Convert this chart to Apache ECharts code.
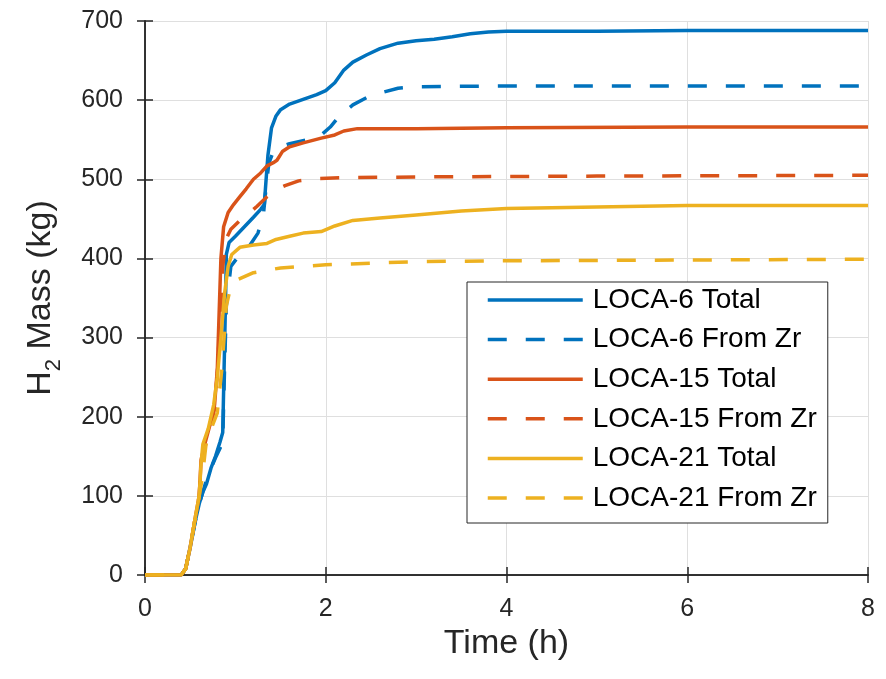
<!DOCTYPE html>
<html>
<head>
<meta charset="utf-8">
<script src="https://cdn.jsdelivr.net/npm/echarts@6/dist/echarts.min.js"></script>
<style>
  html, body { margin: 0; padding: 0; background: #fff; }
  #chart { width: 886px; height: 679px; }
</style>
</head>
<body>
<div id="chart"></div>
<script>
// H2 mass vs time
var seriesNames = ['LOCA-6 Total', 'LOCA-6 From Zr', 'LOCA-15 Total', 'LOCA-15 From Zr', 'LOCA-21 Total', 'LOCA-21 From Zr'];
var xTicks = [0, 2, 4, 6, 8];
var yTicks = [0, 100, 200, 300, 400, 500, 600, 700];

var t6Total = [0, 0.4, 0.45, 0.5, 0.56, 0.6, 0.64, 0.68, 0.73, 0.78, 0.83, 0.86, 0.875, 0.89, 0.9, 0.93, 1.0, 1.1, 1.2, 1.28, 1.32, 1.34, 1.36, 1.4, 1.45, 1.5, 1.6, 1.75, 1.9, 2.0, 2.1, 2.2, 2.3, 2.45, 2.6, 2.8, 3.0, 3.2, 3.4, 3.6, 3.8, 4.0, 5, 6, 8];
var m6Total = [0, 0, 8, 35, 70, 90, 105, 115, 135, 150, 168, 180, 260, 340, 405, 420, 428, 440, 452, 462, 468, 500, 530, 565, 580, 588, 595, 601, 607, 612, 622, 638, 648, 657, 665, 672, 675, 677, 680, 684, 686, 687, 687, 688, 688];

var t6Zr = [0, 0.4, 0.45, 0.5, 0.56, 0.6, 0.64, 0.68, 0.73, 0.78, 0.83, 0.86, 0.88, 0.9, 0.95, 1.05, 1.15, 1.25, 1.31, 1.34, 1.37, 1.42, 1.5, 1.6, 1.8, 1.95, 2.05, 2.15, 2.3, 2.45, 2.6, 2.8, 3.0, 4, 8];
var m6Zr = [0, 0, 8, 35, 70, 90, 105, 120, 135, 148, 160, 170, 260, 340, 390, 405, 415, 432, 455, 490, 520, 535, 541, 545, 550, 556, 566, 580, 594, 603, 609, 615, 617, 618, 618];

var t15Total = [0, 0.4, 0.45, 0.5, 0.56, 0.6, 0.62, 0.66, 0.72, 0.77, 0.8, 0.82, 0.84, 0.87, 0.92, 0.98, 1.05, 1.12, 1.2, 1.28, 1.35, 1.42, 1.46, 1.52, 1.6, 1.75, 1.95, 2.1, 2.2, 2.35, 3, 4, 6, 8];
var m15Total = [0, 0, 8, 35, 75, 100, 145, 165, 190, 215, 260, 330, 400, 440, 458, 468, 478, 488, 500, 508, 517, 521, 524, 535, 541, 546, 552, 556, 561, 564, 564, 565, 566, 566];

var t15Zr = [0, 0.4, 0.45, 0.5, 0.56, 0.6, 0.62, 0.66, 0.72, 0.77, 0.8, 0.83, 0.86, 0.9, 0.95, 1.05, 1.15, 1.24, 1.35, 1.45, 1.55, 1.7, 1.9, 2.2, 3, 5, 8];
var m15Zr = [0, 0, 8, 35, 75, 100, 140, 160, 185, 210, 255, 320, 390, 425, 437, 448, 457, 466, 478, 487, 492, 498, 501, 502, 503, 504, 505];

var t21Total = [0, 0.4, 0.45, 0.5, 0.56, 0.6, 0.62, 0.64, 0.7, 0.76, 0.8, 0.84, 0.88, 0.92, 0.96, 1.05, 1.2, 1.35, 1.45, 1.6, 1.75, 1.95, 2.1, 2.3, 2.6, 3.0, 3.5, 4.0, 5, 6, 8];
var m21Total = [0, 0, 8, 35, 75, 100, 140, 165, 185, 215, 250, 300, 355, 390, 405, 414, 417, 419, 424, 428, 432, 434, 441, 448, 451, 455, 460, 463, 465, 467, 467];

var t21Zr = [0, 0.4, 0.45, 0.5, 0.56, 0.6, 0.63, 0.68, 0.75, 0.8, 0.85, 0.9, 0.95, 1.0, 1.2, 1.5, 2, 3, 4, 8];
var m21Zr = [0, 0, 8, 35, 75, 100, 120, 170, 190, 205, 260, 340, 365, 372, 382, 388, 392, 396, 397, 399];

var colors = ['#0072BD', '#0072BD', '#D95319', '#D95319', '#EDB120', '#EDB120'];
var dashed = [false, true, false, true, false, true];
var times = [t6Total, t6Zr, t15Total, t15Zr, t21Total, t21Zr];
var masses = [m6Total, m6Zr, m15Total, m15Zr, m21Total, m21Zr];

function pairs(t, m) {
  return t.map(function (x, i) { return [x, m[i]]; });
}

var axisColor = '#262626';
var font = 'Liberation Sans, Arial, Helvetica, sans-serif';

var chart = echarts.init(document.getElementById('chart'));

chart.setOption({
  animation: false,
  backgroundColor: '#fff',
  grid: { left: 145, right: 18, top: 21, bottom: 104, containLabel: false },
  legend: {
    data: seriesNames,
    orient: 'vertical',
    left: 467,
    top: 282,
    itemWidth: 95,
    itemHeight: 14,
    itemGap: 9.6,
    padding: [3, 11, 10, 19],
    borderColor: axisColor,
    borderWidth: 1,
    backgroundColor: '#fff',
    itemStyle: { opacity: 0 },
    lineStyle: { width: 3.5 },
    textStyle: { fontSize: 28, fontFamily: font, color: '#000', lineHeight: 30, padding: [0, 0, 0, 5] }
  },
  xAxis: [{
    type: 'value', min: 0, max: 8, interval: 2,
    name: 'Time (h)', nameLocation: 'middle', nameGap: 52,
    nameTextStyle: { fontSize: 34, fontFamily: font, color: axisColor },
    axisLine: { lineStyle: { color: axisColor, width: 1.5 } },
    axisTick: { inside: true, length: 8, lineStyle: { color: axisColor, width: 1.5 } },
    axisLabel: { fontSize: 25, fontFamily: font, color: axisColor, margin: 22,
      formatter: function (v) { return xTicks.indexOf(v) >= 0 ? String(v) : ''; } },
    splitLine: { show: true, lineStyle: { color: '#dfdfdf', width: 1 } }
  }, {
    type: 'value', min: 0, max: 8, interval: 2, position: 'top',
    axisLine: { show: true, lineStyle: { color: axisColor, width: 1.5 } },
    axisTick: { show: true, inside: true, length: 8, lineStyle: { color: axisColor, width: 1.5 } },
    axisLabel: { show: false }, splitLine: { show: false }
  }],
  yAxis: [{
    type: 'value', min: 0, max: 700, interval: 100,
    name: '{a|H}{b|2}{a| Mass (kg)}', nameLocation: 'middle', nameGap: 80,
    nameTextStyle: {
      color: axisColor, fontFamily: font,
      rich: {
        a: { fontSize: 34, fontFamily: font, color: axisColor, lineHeight: 48, verticalAlign: 'middle' },
        b: { fontSize: 22, fontFamily: font, color: axisColor, lineHeight: 22, verticalAlign: 'bottom' }
      }
    },
    axisLine: { show: true, lineStyle: { color: axisColor, width: 1.5 } },
    axisTick: { show: true, inside: true, length: 8, lineStyle: { color: axisColor, width: 1.5 } },
    axisLabel: { fontSize: 25, fontFamily: font, color: axisColor, margin: 22,
      formatter: function (v) { return yTicks.indexOf(v) >= 0 ? String(v) : ''; } },
    splitLine: { show: true, lineStyle: { color: '#dfdfdf', width: 1 } }
  }, {
    type: 'value', min: 0, max: 700, interval: 100, position: 'right',
    axisLine: { show: true, lineStyle: { color: axisColor, width: 1.5 } },
    axisTick: { show: true, inside: true, length: 8, lineStyle: { color: axisColor, width: 1.5 } },
    axisLabel: { show: false }, splitLine: { show: false }
  }],
  series: seriesNames.map(function (name, i) {
    return {
      name: name,
      type: 'line',
      data: pairs(times[i], masses[i]),
      showSymbol: false,
      symbol: 'none',
      smooth: false,
      color: colors[i],
      lineStyle: { color: colors[i], width: 3.5, type: dashed[i] ? [19, 19] : 'solid', cap: 'butt' },
      z: 2 + i
    };
  })
});
</script>
</body>
</html>
